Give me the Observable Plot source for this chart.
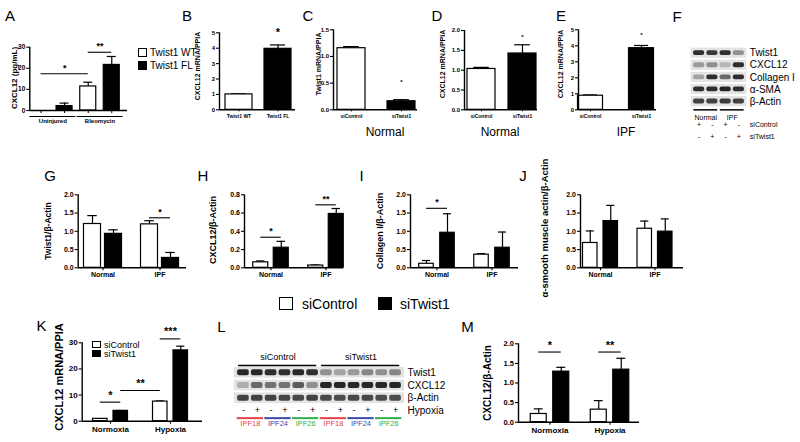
<!DOCTYPE html>
<html><head><meta charset="utf-8">
<script src="https://cdn.jsdelivr.net/npm/d3@7"></script>
<script src="https://cdn.jsdelivr.net/npm/@observablehq/plot@0.6"></script>
<style>
body{margin:0;background:#fff;}
#fig{position:relative;width:800px;height:442px;overflow:hidden;background:#fff;font-family:"Liberation Sans",Arial,Helvetica,sans-serif;}
#fig svg{position:absolute;left:0;top:0;}
.lbl{position:absolute;white-space:nowrap;line-height:1;color:#000;}
.box{position:absolute;box-sizing:border-box;border:1.4px solid #000;}
</style></head><body><div id="fig"></div>
<script>
// ---------------- DATA ----------------
// Panel A
const aGroups = ["Uninjured", "Bleomycin"];
const aSeries = ["Twist1 WT", "Twist1 FL"];
const aMean = [0, 2.1, 11.4, 21.6];
const aErr = [0, 1.4, 2.0, 4.0];
const aTicks = [0, 10, 20, 30];
const aSig = [{from: 0, to: 2, y: 17.4, label: "*"}, {from: 2, to: 3, y: 27.6, label: "**"}];
// Panel B
const bLabels = ["Twist1 WT", "Twist1 FL"];
const bMean = [1.0, 3.96];
const bErr = [0.04, 0.25];
const bTicks = [0, 1, 2, 3, 4, 5];
const bStars = [{bar: 1, y: 5.0, label: "*"}];
// Panel C
const siLabels = ["siControl", "siTwist1"];
const cMean = [1.155, 0.16];
const cErr = [0.03, 0.03];
const cTicks = [0, 0.5, 1.0, 1.5];
const cStars = [{bar: 1, y: 0.52, label: "*"}];
// Panel D
const dMean = [1.03, 1.42];
const dErr = [0.04, 0.22];
const dTicks = [0, 0.5, 1.0, 1.5, 2.0];
const dStars = [{bar: 1, y: 1.83, label: "*"}];
// Panel E
const eMean = [0.88, 3.85];
const eErr = [0.05, 0.17];
const eTicks = [0, 1, 2, 3, 4, 5];
const eStars = [{bar: 1, y: 4.69, label: "*"}];
const cdeTitles = ["Normal", "Normal", "IPF"];
// Panel F (western blot)
const fRows = ["Twist1", "CXCL12", "Collagen I", "\u03b1-SMA", "\u03b2-Actin"];
const fBands = [
  [0.85, 0.80, 0.85, 0.35],
  [0.30, 0.35, 0.15, 0.85],
  [0.25, 0.85, 0.55, 0.85],
  [0.85, 0.85, 0.90, 0.85],
  [0.75, 0.75, 0.78, 0.75]
];
const fGroups = [{label: "Normal", lanes: [0, 1]}, {label: "IPF", lanes: [2, 3]}];
const fSiControl = ["+", "-", "+", "-"];
const fSiTwist1 = ["-", "+", "-", "+"];
const fTreatments = ["siControl", "siTwist1"];
// Panels G-J
const ghijGroups = ["Normal", "IPF"];
const gMean = [1.2, 0.93, 1.19, 0.27];
const gErr = [0.23, 0.11, 0.10, 0.15];
const gSig = [{from: 2, to: 3, y: 1.37, label: "*"}];
const hMean = [0.06, 0.22, 0.025, 0.59];
const hErr = [0.015, 0.07, 0.006, 0.06];
const hSig = [{from: 0, to: 1, y: 0.335, label: "*"}, {from: 2, to: 3, y: 0.69, label: "**"}];
const iMean = [0.11, 0.96, 0.36, 0.55];
const iErr = [0.09, 0.52, 0.03, 0.43];
const iSig = [{from: 0, to: 1, y: 1.63, label: "*"}];
const jMean = [0.68, 1.28, 1.07, 0.99];
const jErr = [0.33, 0.43, 0.21, 0.35];
const ticks2 = [0, 0.5, 1.0, 1.5, 2.0];
const ticksH = [0, 0.2, 0.4, 0.6, 0.8];
const siSeries = ["siControl", "siTwist1"];
// Panel K
const kmGroups = ["Normoxia", "Hypoxia"];
const kMean = [0.9, 3.95, 7.5, 27.1];
const kErr = [0.1, 0.15, 0.25, 1.6];
const kTicks = [0, 10, 20, 30];
const kSig = [{from: 0, to: 1, y: 7.3, label: "*"}, {from: 1, to: 2, y: 11.75, label: "**"}, {from: 2, to: 3, y: 31.5, label: "***"}];
// Panel L (western blot)
const lRows = ["Twist1", "CXCL12", "\u03b2-Actin"];
const lBands = [
  [0.88, 0.88, 0.85, 0.85, 0.88, 0.85, 0.35, 0.25, 0.30, 0.40, 0.35, 0.40],
  [0.20, 0.55, 0.50, 0.50, 0.62, 0.35, 0.90, 0.90, 0.88, 0.88, 0.88, 0.90],
  [0.75, 0.75, 0.75, 0.72, 0.72, 0.75, 0.72, 0.70, 0.72, 0.72, 0.70, 0.70]
];
const lHeader = [{label: "siControl", lanes: [0, 5]}, {label: "siTwist1", lanes: [6, 11]}];
const lHypoxia = ["-", "+", "-", "+", "-", "+", "-", "+", "-", "+", "-", "+"];
const lDonors = ["IPF18", "IPF24", "IPF26", "IPF18", "IPF24", "IPF26"];
const donorColors = {IPF18: "#e5434a", IPF24: "#3a4aa6", IPF26: "#2fae4b"};
// Panel M
const mMean = [0.21, 1.29, 0.32, 1.34];
const mErr = [0.13, 0.11, 0.23, 0.29];
const mSig = [{from: 0, to: 1, y: 1.79, label: "*"}, {from: 2, to: 3, y: 1.79, label: "**"}];

// ---------------- HELPERS ----------------
const FONT = "'Liberation Sans', Arial, Helvetica, sans-serif";
const fig = document.getElementById("fig");
const fills = ["#ffffff", "#000000"];
const W = 800, H = 442;

function addText(s, x, y, o = {}) {
  const d = document.createElement("div");
  d.className = "lbl";
  d.textContent = s;
  d.style.left = x + "px";
  d.style.top = y + "px";
  d.style.fontSize = (o.size || 10) + "px";
  d.style.fontWeight = o.weight || "normal";
  if (o.color) d.style.color = o.color;
  const tx = o.anchor === "start" ? "0" : o.anchor === "end" ? "-100%" : "-50%";
  d.style.transform = `translate(${tx},-50%)` + (o.rotate ? ` rotate(${o.rotate}deg)` : "");
  fig.appendChild(d);
}
function addBox(x, y, w, h, fill) {
  const d = document.createElement("div");
  d.className = "box";
  Object.assign(d.style, {left: x + "px", top: y + "px", width: w + "px", height: h + "px", background: fill});
  fig.appendChild(d);
}

function barPanel(p) {
  const nS = 2;
  const nG = p.mean.length / nS;
  const u = p.unit;
  const G = nG > 1 ? (p.centers[1] - p.centers[0]) / u : 0;
  const mid = (nS - 1) / 2;
  const d0 = mid - (p.centers[0] - p.frame[0]) / u;
  const d1 = d0 + (p.frame[1] - p.frame[0]) / u;
  const bw = p.barWidth / u;
  const pos = i => Math.floor(i / nS) * G + (i % nS);
  const bars = p.mean.map((v, i) => ({i, pos: pos(i), v, e: p.err[i], s: i % nS}));
  const gc = d3.range(nG).map(g => g * G + mid);
  const [ymin, ymax] = p.yDomain;
  const sw = 1.2, aw = 1.4;
  const withErr = bars.filter(d => d.e > 0);
  const marks = [
    Plot.ruleX(withErr, {x: "pos", y1: "v", y2: d => d.v + d.e, strokeWidth: sw}),
    Plot.ruleY(withErr, {y: d => d.v + d.e, x1: d => d.pos - bw * 0.28, x2: d => d.pos + bw * 0.28, strokeWidth: sw}),
    Plot.rect(bars.filter(d => d.v > 0), {x1: d => d.pos - bw / 2, x2: d => d.pos + bw / 2, y1: ymin, y2: "v",
      fill: d => fills[d.s], stroke: "#000", strokeWidth: sw}),
    Plot.ruleY([ymin], {strokeWidth: aw}),
    Plot.ruleX([d0], {y1: ymin, y2: ymax, strokeWidth: aw}),
    Plot.axisY({ticks: p.yTicks, tickFormat: p.yFormat, tickSize: 3, tickPadding: 1.5, fontSize: p.tickFont,
      fontWeight: "bold", label: null, strokeWidth: 1.1, fill: "#000"})
  ];
  if (p.barLabels) {
    const lm = new Map(bars.map((d, i) => [d.pos, p.barLabels[i]]));
    marks.push(Plot.axisX({ticks: bars.map(d => d.pos), tickFormat: d => lm.get(d), tickSize: 2, tickPadding: p.xPad,
      fontSize: p.xFont, fontWeight: "bold", label: null, strokeWidth: 1, fill: "#000"}));
  } else if (p.barTicks) {
    const gm = new Map(gc.map((c, i) => [c, p.groupLabels[i]]));
    marks.push(Plot.axisX({ticks: bars.map(d => d.pos), tickFormat: () => "", tickSize: 3, label: null, strokeWidth: 1}));
    marks.push(Plot.axisX({ticks: gc, tickFormat: d => gm.get(d), tickSize: 0, tickPadding: p.xPad,
      fontSize: p.xFont, fontWeight: "bold", label: null, fill: "#000"}));
    const groupsData = p.groupLabels.map((g, gi) => ({g, a: gi * G, b: gi * G + nS - 1}));
    marks.push(Plot.ruleY(groupsData, {y: ymin, x1: d => d.a - 0.48, x2: d => d.b + 0.48, dy: 6, strokeWidth: 1.2}));
  } else {
    const gm = new Map(gc.map((c, i) => [c, p.groupLabels[i]]));
    marks.push(Plot.axisX({ticks: gc, tickFormat: d => gm.get(d), tickSize: 3, tickPadding: p.xPad,
      fontSize: p.xFont, fontWeight: "bold", label: null, strokeWidth: 1.1, fill: "#000"}));
  }
  if (p.sig) {
    marks.push(Plot.ruleY(p.sig, {y: "y", x1: d => pos(d.from), x2: d => pos(d.to), strokeWidth: 1.1}));
    marks.push(Plot.text(p.sig, {x: d => (pos(d.from) + pos(d.to)) / 2, y: "y", text: "label", dy: p.starDy,
      fontSize: p.starFont, fontWeight: "bold", fill: "#000"}));
  }
  if (p.stars) {
    marks.push(Plot.text(p.stars, {x: d => pos(d.bar), y: "y", text: "label", fontSize: p.starFont, fontWeight: "bold", fill: "#000"}));
  }
  const svg = Plot.plot({
    width: W, height: H,
    marginLeft: p.frame[0], marginRight: W - p.frame[1],
    marginTop: p.frame[3], marginBottom: H - p.frame[2],
    x: {domain: [d0, d1]},
    y: {domain: [ymin, ymax]},
    style: {background: "transparent", fontFamily: FONT, color: "#000", overflow: "visible"},
    marks
  });
  fig.appendChild(svg);
}

function blotPanel(b) {
  const n = b.bands[0].length;
  const nr = b.rows.length;
  const [x0, x1, yFirst, step] = b.frame;
  const band = b.rows.flatMap((r, ri) => b.bands[ri].map((v, li) => ({ri, li, v})));
  const gray = d3.interpolateRgb("#d4d4d4", "#111111");
  const marks = [
    Plot.rect(b.rows, {x1: -0.5 - b.bgPad, x2: n - 0.5 + b.bgPad, y1: (d, i) => i - 0.42, y2: (d, i) => i + 0.42, fill: "#e3e3e3"}),
    Plot.rect(band, {x1: d => d.li - 0.42, x2: d => d.li + 0.42, y1: d => d.ri - b.bandH, y2: d => d.ri + b.bandH,
      fill: d => gray(d.v), rx: 2}),
    Plot.text(b.rows, {x: n - 0.5 + b.bgPad, y: (d, i) => i, text: d => d, textAnchor: "start", dx: 3, fontSize: 10, fill: "#000"}),
    ...b.extra(n)
  ];
  const svg = Plot.plot({
    width: W, height: H,
    marginLeft: x0, marginRight: W - x1,
    marginTop: yFirst - step / 2, marginBottom: H - (yFirst + (nr - 0.5) * step),
    x: {domain: [-0.5, n - 0.5], axis: null},
    y: {domain: [-0.5, nr - 0.5], reverse: true, axis: null},
    style: {background: "transparent", fontFamily: FONT, color: "#000", overflow: "visible"},
    marks
  });
  fig.appendChild(svg);
}

// ---------------- PANELS ----------------
// A
barPanel({frame: [29.3, 127, 110, 46.7], centers: [52.3, 99.5], unit: 23.5, barWidth: 16,
  mean: aMean, err: aErr, yDomain: [0, 30], yTicks: aTicks, yFormat: d3.format("d"), tickFont: 6.5,
  barTicks: true, groupLabels: aGroups, xFont: 6, xPad: 8, sig: aSig, starFont: 9, starDy: -6});
// B
barPanel({frame: [219, 295, 109.3, 32.3], centers: [258], unit: 39, barWidth: 27,
  mean: bMean, err: bErr, yDomain: [0, 5], yTicks: bTicks, yFormat: d3.format("d"), tickFont: 6,
  barLabels: bLabels, xFont: 5, xPad: 3, stars: bStars, starFont: 11});
// C
barPanel({frame: [333, 417, 109.3, 29.3], centers: [376], unit: 50, barWidth: 28,
  mean: cMean, err: cErr, yDomain: [0, 1.5], yTicks: cTicks, yFormat: d3.format(".1f"), tickFont: 6,
  barLabels: siLabels, xFont: 5, xPad: 3, stars: cStars, starFont: 6});
// D
barPanel({frame: [464, 537, 109.3, 30], centers: [501.5], unit: 41, barWidth: 28,
  mean: dMean, err: dErr, yDomain: [0, 2], yTicks: dTicks, yFormat: d3.format(".1f"), tickFont: 6,
  barLabels: siLabels, xFont: 5, xPad: 3, stars: dStars, starFont: 6});
// E
barPanel({frame: [578, 656, 109.3, 29.3], centers: [615.5], unit: 51, barWidth: 25,
  mean: eMean, err: eErr, yDomain: [0, 5], yTicks: eTicks, yFormat: d3.format("d"), tickFont: 6,
  barLabels: siLabels, xFont: 5, xPad: 3, stars: eStars, starFont: 6});
// F
blotPanel({frame: [692, 745, 52.7, 12.08], rows: fRows, bands: fBands, bgPad: 0.1, bandH: 0.2,
  extra: n => [
    Plot.ruleY(fGroups, {y: 4.69, x1: d => d.lanes[0] - 0.4, x2: d => d.lanes[1] + 0.4, strokeWidth: 1.5}),
    Plot.text(fGroups, {x: d => (d.lanes[0] + d.lanes[1]) / 2, y: 5.35, text: "label", fontSize: 7, fill: "#000"}),
    Plot.text(fSiControl, {x: (d, i) => i, y: 5.92, text: d => d, fontSize: 7, fill: "#000"}),
    Plot.text(fSiTwist1, {x: (d, i) => i, y: 6.91, text: d => d, fontSize: 7, fill: "#000"}),
    Plot.text(fTreatments, {x: n - 0.4, y: (d, i) => i === 0 ? 5.92 : 6.91, text: d => d, textAnchor: "start", dx: 3, fontSize: 7, fill: "#000"})
  ]});
// G-J
const row2 = {yDomain: [0, 2], yTicks: ticks2, yFormat: d3.format(".1f"), tickFont: 7, groupLabels: ghijGroups,
  xFont: 7, xPad: 1.5, starFont: 9, starDy: -6};
barPanel({...row2, frame: [77.7, 186, 267.3, 194.3], centers: [102.5, 159.5], unit: 21, barWidth: 17, mean: gMean, err: gErr, sig: gSig});
barPanel({...row2, frame: [244, 343, 267.3, 194.3], centers: [270.5, 325.5], unit: 20.5, barWidth: 15, mean: hMean, err: hErr, sig: hSig,
  yDomain: [0, 0.8], yTicks: ticksH});
barPanel({...row2, frame: [410, 518, 267.3, 194.3], centers: [436.5, 491.5], unit: 21, barWidth: 14.5, mean: iMean, err: iErr, sig: iSig});
barPanel({...row2, frame: [580, 683, 267.3, 194.3], centers: [600, 654.5], unit: 20.5, barWidth: 14.5, mean: jMean, err: jErr});
// K
barPanel({frame: [81.7, 202, 420.7, 342.3], centers: [110, 170], unit: 20.5, barWidth: 14.5,
  mean: kMean, err: kErr, yDomain: [0, 30], yTicks: kTicks, yFormat: d3.format("d"), tickFont: 8,
  groupLabels: kmGroups, xFont: 8, xPad: 2, sig: kSig, starFont: 11, starDy: -7});
// L
blotPanel({frame: [236, 402, 372.3, 12.7], rows: lRows, bands: lBands, bgPad: 0.15, bandH: 0.24,
  extra: n => [
    Plot.ruleY(lHeader, {y: -0.57, x1: d => d.lanes[0] - 0.35, x2: d => d.lanes[1] + 0.3, strokeWidth: 1.6}),
    Plot.text(lHeader, {x: d => (d.lanes[0] + d.lanes[1]) / 2, y: -1.2, text: "label", fontSize: 9, fill: "#000"}),
    Plot.text(lHypoxia, {x: (d, i) => i, y: 2.97, text: d => d, fontSize: 9, fill: "#000"}),
    Plot.text(["Hypoxia"], {x: n - 0.5 + 0.15, y: 2.97, text: d => d, textAnchor: "start", dx: 3, fontSize: 10, fill: "#000"}),
    Plot.ruleY(lDonors, {y: 3.57, x1: (d, i) => 2 * i - 0.45, x2: (d, i) => 2 * i + 1.45, stroke: d => donorColors[d], strokeWidth: 2}),
    Plot.text(lDonors, {x: (d, i) => 2 * i + 0.5, y: 4.02, text: d => d, fill: d => donorColors[d], fontSize: 7.5})
  ]});
// M
barPanel({frame: [518, 639, 421.7, 343.3], centers: [549.5, 609.5], unit: 22.5, barWidth: 16,
  mean: mMean, err: mErr, yDomain: [0, 2], yTicks: ticks2, yFormat: d3.format(".1f"), tickFont: 7.5,
  groupLabels: kmGroups, xFont: 8, xPad: 2, sig: mSig, starFont: 11, starDy: -7});

// ---------------- TEXT: letters, titles, y labels, legends ----------------
const letters = [["A", 10, 15], ["B", 187, 15], ["C", 308, 15], ["D", 437, 15], ["E", 561, 15], ["F", 677, 16],
  ["G", 50, 175], ["H", 203, 175], ["I", 361.5, 175], ["J", 523, 175], ["K", 41.5, 325], ["L", 221.5, 326], ["M", 467.5, 326]];
letters.forEach(([s, x, y]) => addText(s, x, y, {size: 15}));
addText(cdeTitles[0], 385, 132, {size: 12});
addText(cdeTitles[1], 500, 132, {size: 12});
addText(cdeTitles[2], 626, 132, {size: 12});

const yLabels = [
  ["CXCL12 (pg/mL)", 15, 78, 8], ["CXCL12 mRNA/PPIA", 197, 66, 7], ["Twist1 mRNA/PPIA", 318, 64, 7],
  ["CXCL12 mRNA/PPIA", 442, 64, 7], ["CXCL12 mRNA/PPIA", 560, 64, 7],
  ["Twist1/\u03b2-Actin", 48, 231, 8.5], ["CXCL12/\u03b2-Actin", 213, 230, 9], ["Collagen I/\u03b2-Actin", 380, 231, 9],
  ["\u03b1-smooth muscle actin/\u03b2-Actin", 545, 228, 9.5],
  ["CXCL12 mRNA/PPIA", 59, 377, 11], ["CXCL12/\u03b2-Actin", 488, 383, 10]
];
yLabels.forEach(([s, x, y, sz]) => addText(s, x, y, {size: sz, weight: "bold", rotate: -90}));

// Legend A
addBox(138, 48, 9, 8.5, fills[0]); addText(aSeries[0], 150, 52.5, {size: 10, anchor: "start"});
addBox(138, 61, 9, 8.5, fills[1]); addText(aSeries[1], 150, 65.5, {size: 10, anchor: "start"});
// Center legend
addBox(279, 297, 14, 13, fills[0]); addText(siSeries[0], 302, 304, {size: 14, anchor: "start"});
addBox(378, 297, 14, 13, fills[1]); addText(siSeries[1], 400, 304, {size: 14, anchor: "start"});
// Legend K
addBox(92, 341, 9, 7, fills[0]); addText(siSeries[0], 104, 345, {size: 9, anchor: "start"});
addBox(92, 350, 9, 7, fills[1]); addText(siSeries[1], 104, 354, {size: 9, anchor: "start"});
</script></body></html>
